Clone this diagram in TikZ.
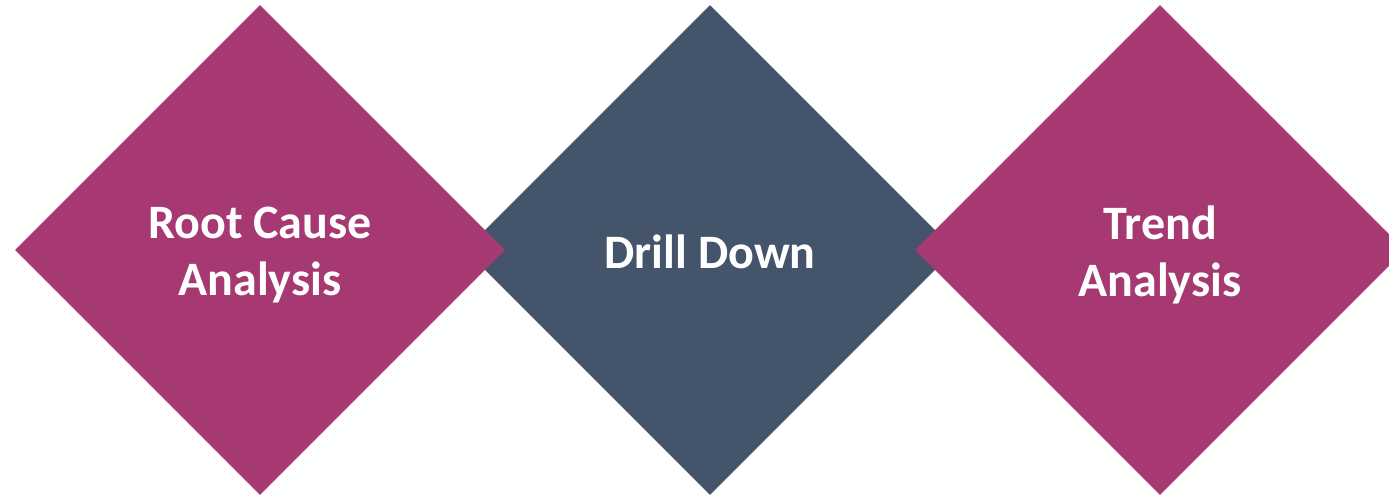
\documentclass[tikz,border=0pt]{standalone}
\usepackage{fontspec}
\setmainfont{Carlito}
\usetikzlibrary{shapes.geometric}
\definecolor{rosepink}{HTML}{A63872}
\definecolor{slatenavy}{HTML}{44546A}
\tikzset{
  dia/.style={diamond, shape aspect=1, inner sep=0pt, minimum width=490pt, minimum height=490pt},
  lbl/.style={text=white, align=center, inner sep=0pt, font=\bfseries\fontsize{48}{57}\selectfont},
}
\begin{document}
\begin{tikzpicture}[x=1pt,y=1pt]
\useasboundingbox (0,0) rectangle (1389,-495);
\node[dia, fill=slatenavy] (drill) at (710,-250) {};
\node[dia, fill=rosepink] (root) at (260,-250) {};
\node[dia, fill=rosepink] (trend) at (1160,-250) {};
\node[lbl, yshift=-2pt] (drilltxt) at (drill.center) {Drill Down};
\node[lbl, yshift=-5pt] (roottxt) at (root.center) {Root Cause\\Analysis};
\node[lbl, yshift=-5pt] (trendtxt) at (trend.center) {Trend\\Analysis};
\end{tikzpicture}
\end{document}
